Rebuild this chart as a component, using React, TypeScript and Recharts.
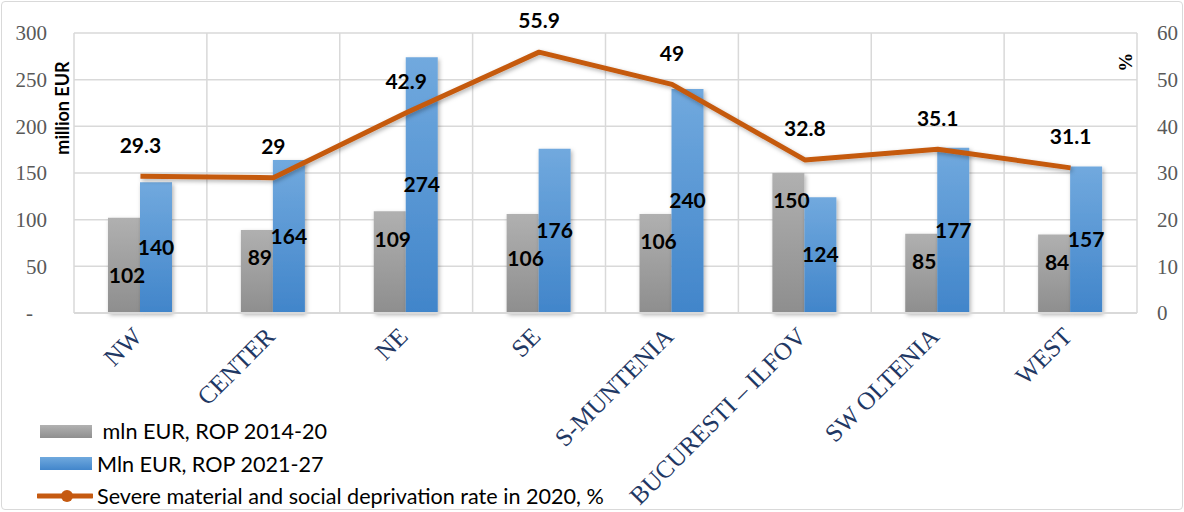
import React from 'react';
import {
  ComposedChart,
  Bar,
  Line,
  XAxis,
  YAxis,
  CartesianGrid,
  Legend,
  LabelList,
} from 'recharts';

// Regions and their values
const regions = ['NW', 'CENTER', 'NE', 'SE', 'S-MUNTENIA', 'BUCURESTI – ILFOV', 'SW OLTENIA', 'WEST'];
const rop2014 = [102, 89, 109, 106, 106, 150, 85, 84];
const rop2021 = [140, 164, 274, 176, 240, 124, 177, 157];
const deprivationRate = [29.3, 29, 42.9, 55.9, 49, 32.8, 35.1, 31.1];

const eurTicks = [0, 50, 100, 150, 200, 250, 300];
const pctTicks = [0, 10, 20, 30, 40, 50, 60];

const seriesNames = {
  rop2014: ' mln EUR, ROP 2014-20',
  rop2021: 'Mln EUR, ROP 2021-27',
  rate: 'Severe material and social deprivation rate in 2020, %',
};

const data = regions.map((region, i) => ({
  region,
  rop2014: rop2014[i],
  rop2021: rop2021[i],
  rate: deprivationRate[i],
}));

const SANS = 'Lato, "Open Sans", sans-serif';
const SERIF = '"Liberation Serif", "Times New Roman", serif';
const GRID = '#d9d9d9';
const ORANGE = '#c55a11';

const valueStyle: React.CSSProperties = {
  fontFamily: SANS,
  fontWeight: 700,
  fontSize: 21,
  fill: '#000',
};

const RegionTick = (props: any) => {
  const { x, y, payload } = props;
  const ax = x + 3;
  const ay = y + 25;
  return (
    <text
      x={ax}
      y={ay}
      transform={`rotate(-45, ${ax}, ${ay})`}
      textAnchor="end"
      fontFamily={SERIF}
      fontSize={25}
      fill="#1f3864"
    >
      {payload.value}
    </text>
  );
};

const EurTick = (props: any) => {
  const { x, y, payload } = props;
  const zero = payload.value === 0;
  return (
    <text
      x={zero ? x - 14 : x}
      y={y}
      dy="0.35em"
      textAnchor="end"
      fontFamily={SERIF}
      fontSize={21}
      fill="#595959"
    >
      {zero ? '-' : payload.value}
    </text>
  );
};

const PctTick = (props: any) => {
  const { x, y, payload } = props;
  return (
    <text x={x} y={y} dy="0.35em" textAnchor="start" fontFamily={SERIF} fontSize={21} fill="#595959">
      {payload.value}
    </text>
  );
};

// Gray labels sit near the top of their bar, dropping below the
// neighbouring blue label when the two would collide.
const GrayValue = (props: any) => {
  const { x, y, width, height, value, index } = props;
  const bottom = y + height;
  const pxPerUnit = value ? height / value : 0;
  const blueMid = bottom - (data[index].rop2021 * pxPerUnit) / 2;
  let ly = y + 28;
  if (Math.abs(ly - blueMid) < 20) ly = blueMid + 28;
  return (
    <text x={x + width / 2 + 3} y={ly} dy="0.35em" textAnchor="middle" style={valueStyle}>
      {value}
    </text>
  );
};

const BlueValue = (props: any) => {
  const { x, y, width, height, value } = props;
  return (
    <text x={x + width / 2} y={y + height / 2} dy="0.35em" textAnchor="middle" style={valueStyle}>
      {value}
    </text>
  );
};

const RateValue = (props: any) => {
  const { x, y, value } = props;
  return (
    <text x={x} y={y - 31} dy="0.35em" textAnchor="middle" style={valueStyle}>
      {value}
    </text>
  );
};

const EurTitle = (props: any) => {
  const { viewBox } = props;
  const cx = viewBox.x + viewBox.width - 12;
  const cy = viewBox.y + 75;
  return (
    <text
      x={cx}
      y={cy}
      transform={`rotate(-90, ${cx}, ${cy})`}
      textAnchor="middle"
      dominantBaseline="central"
      fontFamily={SANS}
      fontWeight={700}
      fontSize={18}
      fill="#000"
    >
      million EUR
    </text>
  );
};

const PctTitle = (props: any) => {
  const { viewBox } = props;
  const cx = viewBox.x - 12;
  const cy = viewBox.y + 29;
  return (
    <text
      x={cx}
      y={cy}
      transform={`rotate(90, ${cx}, ${cy})`}
      textAnchor="middle"
      dominantBaseline="central"
      fontFamily={SERIF}
      fontWeight={700}
      fontSize={19}
      fill="#000"
    >
      %
    </text>
  );
};

const swatchFor = (key: string) => {
  if (key === 'rate') {
    return (
      <svg width={56} height={14} style={{ display: 'block' }}>
        <line x1={1} y1={7} x2={55} y2={7} stroke={ORANGE} strokeWidth={5} strokeLinecap="round" />
        <circle cx={30} cy={7} r={6} fill={ORANGE} />
      </svg>
    );
  }
  const bg =
    key === 'rop2014'
      ? 'linear-gradient(#b1b1b1, #8f8f8f)'
      : 'linear-gradient(#70a9de, #4286cb)';
  return <div style={{ width: 52, height: 13, marginLeft: 3, marginRight: 1, background: bg }} />;
};

const LegendBox = (props: any) => {
  const { payload } = props;
  const order = ['rop2014', 'rop2021', 'rate'];
  const items = order
    .map((k) => (payload || []).find((p: any) => p.dataKey === k))
    .filter(Boolean);
  return (
    <div style={{ fontFamily: SANS, fontSize: 21.6, color: '#000' }}>
      {items.map((item: any) => (
        <div
          key={item.dataKey}
          style={{ display: 'flex', alignItems: 'center', height: 32.5, whiteSpace: 'pre' }}
        >
          {swatchFor(item.dataKey)}
          <span style={{ marginLeft: 4 }}>{item.value}</span>
        </div>
      ))}
    </div>
  );
};

const boundaryLines = (props: any) => {
  const { offset } = props;
  const n = regions.length;
  return Array.from({ length: n + 1 }, (_, i) => offset.left + (i * offset.width) / n);
};

export default function App() {
  return (
    <div style={{ position: 'absolute', left: 0, top: 0, width: 1184, height: 512, background: '#fff' }}>
      <div
        style={{
          position: 'absolute',
          left: 1,
          top: 1,
          width: 1180,
          height: 507,
          border: `1px solid ${GRID}`,
          borderRadius: 4,
          pointerEvents: 'none',
        }}
      />
      <ComposedChart
        width={1184}
        height={512}
        data={data}
        margin={{ top: 33, right: 0, bottom: 0, left: 0 }}
        barGap={0}
      >
        <defs>
          <linearGradient id="grayFill" x1="0" y1="0" x2="0" y2="1">
            <stop offset="0%" stopColor="#b0b0b0" />
            <stop offset="100%" stopColor="#8e8e8e" />
          </linearGradient>
          <linearGradient id="blueFill" x1="0" y1="0" x2="0" y2="1">
            <stop offset="0%" stopColor="#71a9de" />
            <stop offset="100%" stopColor="#4185ca" />
          </linearGradient>
          <filter id="softShadow" x="-20%" y="-20%" width="140%" height="140%">
            <feDropShadow dx="1.5" dy="2" stdDeviation="2" floodColor="#000" floodOpacity="0.3" />
          </filter>
        </defs>
        <CartesianGrid
          yAxisId="eur"
          stroke={GRID}
          strokeWidth={1.5}
          verticalCoordinatesGenerator={boundaryLines}
        />
        <XAxis
          dataKey="region"
          height={199}
          interval={0}
          tickSize={0}
          tickMargin={0}
          tickLine={false}
          axisLine={{ stroke: GRID, strokeWidth: 2 }}
          tick={<RegionTick />}
        />
        <YAxis
          yAxisId="eur"
          orientation="left"
          width={74}
          domain={[0, 300]}
          ticks={eurTicks}
          interval={0}
          tickSize={0}
          tickMargin={27}
          axisLine={false}
          tickLine={false}
          tick={<EurTick />}
          label={{ content: EurTitle }}
        />
        <YAxis
          yAxisId="pct"
          orientation="right"
          width={47}
          domain={[0, 60]}
          ticks={pctTicks}
          interval={0}
          tickSize={0}
          tickMargin={20}
          axisLine={false}
          tickLine={false}
          tick={<PctTick />}
          label={{ content: PctTitle }}
        />
        <Bar
          yAxisId="eur"
          dataKey="rop2014"
          name={seriesNames.rop2014}
          fill="url(#grayFill)"
          barSize={32}
          filter="url(#softShadow)"
          isAnimationActive={false}
        >
          <LabelList dataKey="rop2014" content={GrayValue} />
        </Bar>
        <Bar
          yAxisId="eur"
          dataKey="rop2021"
          name={seriesNames.rop2021}
          fill="url(#blueFill)"
          barSize={32}
          filter="url(#softShadow)"
          isAnimationActive={false}
        >
          <LabelList dataKey="rop2021" content={BlueValue} />
        </Bar>
        <Line
          yAxisId="pct"
          dataKey="rate"
          name={seriesNames.rate}
          type="linear"
          stroke={ORANGE}
          strokeWidth={5}
          strokeLinejoin="round"
          dot={false}
          activeDot={false}
          filter="url(#softShadow)"
          isAnimationActive={false}
        >
          <LabelList dataKey="rate" content={RateValue} />
        </Line>
        <Legend
          layout="vertical"
          align="center"
          verticalAlign="middle"
          content={<LegendBox />}
          wrapperStyle={{ left: 37, top: 415, width: 700, height: 98 }}
        />
      </ComposedChart>
    </div>
  );
}
